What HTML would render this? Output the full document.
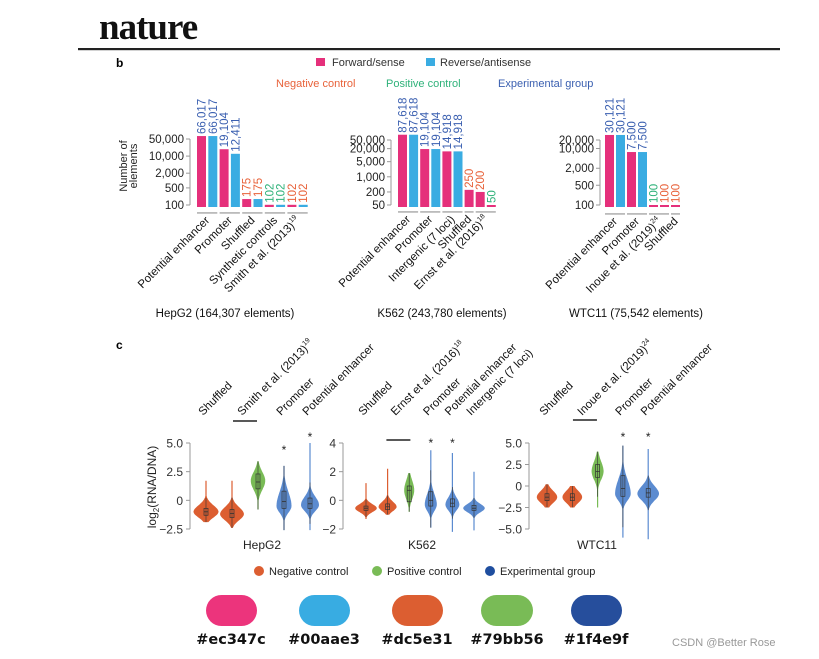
<!DOCTYPE html>
<html><head><meta charset="utf-8"><style>
html,body{margin:0;padding:0;background:#fff;}
svg{display:block;font-family:"Liberation Sans",Arial,sans-serif;}
</style></head><body>
<svg id="fig" width="819" height="659" viewBox="0 0 819 659" xmlns="http://www.w3.org/2000/svg">
<rect width="819" height="659" fill="#fff"/>
<text x="99" y="39" font-family="Liberation Serif,serif" font-weight="bold" font-size="37" letter-spacing="-1" fill="#111">nature</text>
<rect x="78" y="48" width="702" height="2.2" fill="#222"/>
<text x="116" y="67" font-weight="bold" font-size="12">b</text>
<g font-size="11" fill="#333">
<rect x="316" y="58" width="9" height="8" fill="#e5307b"/>
<text x="332" y="66">Forward/sense</text>
<rect x="426" y="58" width="9" height="8" fill="#3aace2"/>
<text x="440" y="66">Reverse/antisense</text>
</g>
<g font-size="11">
<text x="276" y="87" fill="#e8623a">Negative control</text>
<text x="386" y="87" fill="#2fb27a">Positive control</text>
<text x="498" y="87" fill="#3a5fb0">Experimental group</text>
</g>
<g font-size="11" fill="#222" text-anchor="middle">
<text transform="translate(127,166) rotate(-90)">Number of</text>
<text transform="translate(137,166) rotate(-90)">elements</text>
</g>
<text x="116" y="349" font-weight="bold" font-size="12">c</text>
<text transform="translate(156,487) rotate(-90)" text-anchor="middle" font-size="12" fill="#222">log<tspan font-size="8" dy="3">2</tspan><tspan dy="-3">(RNA/DNA)</tspan></text>
<g font-size="11" fill="#222">
<circle cx="259" cy="571" r="5" fill="#dc5e31"/>
<text x="269" y="575">Negative control</text>
<circle cx="377" cy="571" r="5" fill="#79bb56"/>
<text x="387" y="575">Positive control</text>
<circle cx="490" cy="571" r="5" fill="#1f4e9f"/>
<text x="500" y="575">Experimental group</text>
</g>
<g font-family="DejaVu Sans,sans-serif" font-weight="bold" font-size="14.5" text-anchor="middle" fill="#111">
<rect x="206" y="595" width="51" height="31" rx="15.5" fill="#ec347c"/>
<rect x="299" y="595" width="51" height="31" rx="15.5" fill="#38ace2"/>
<rect x="392" y="595" width="51" height="31" rx="15.5" fill="#dc5e31"/>
<rect x="481" y="595" width="52" height="31" rx="15.5" fill="#79bb56"/>
<rect x="571" y="595" width="51" height="31" rx="15.5" fill="#264e9c"/>
<text x="231" y="644">#ec347c</text>
<text x="324" y="644">#00aae3</text>
<text x="417" y="644">#dc5e31</text>
<text x="507" y="644">#79bb56</text>
<text x="596" y="644">#1f4e9f</text>
</g>
<text x="672" y="646" font-size="11" fill="#999">CSDN @Better Rose</text>
<g id="chartsB"></g>
<g id="chartsC"></g>
</svg>
<script>
// ---------- Panel b data ----------
const hepValues=[66017,66017,19104,12411,175,175,102,102,102,102];
const hepLabels=['66,017','66,017','19,104','12,411','175','175','102','102','102','102'];
const hepTypes=['e','e','e','e','n','n','p','p','n','n'];
const hepSense=['f','r','f','r','f','r','f','r','f','r'];
const hepGroups=[0,0,1,1,2,2,3,3,4,4];
const hepCategories=['Potential enhancer','Promoter','Shuffled','Synthetic controls','Smith et al. (2013)'];
const hepCatSup=['','','','','19'];
const hepTicks=[50000,10000,2000,500,100];
const hepTickLabels=['50,000','10,000','2,000','500','100'];

const kValues=[87618,87618,19104,19104,14918,14918,250,200,50];
const kLabels=['87,618','87,618','19,104','19,104','14,918','14,918','250','200','50'];
const kTypes=['e','e','e','e','e','e','n','n','p'];
const kSense=['f','r','f','r','f','r','f','f','f'];
const kGroups=[0,0,1,1,2,2,3,4,4];
const kCategories=['Potential enhancer','Promoter','Intergenic (7 loci)','Shuffled','Ernst et al. (2016)'];
const kCatSup=['','','','','18'];
const kTicks=[50000,20000,5000,1000,200,50];
const kTickLabels=['50,000','20,000','5,000','1,000','200','50'];

const wValues=[30121,30121,7500,7500,100,100,100];
const wLabels=['30,121','30,121','7,500','7,500','100','100','100'];
const wTypes=['e','e','e','e','p','n','n'];
const wSense=['f','r','f','r','f','f','f'];
const wGroups=[0,0,1,1,2,2,3];
const wCategories=['Potential enhancer','Promoter','Inoue et al. (2019)','Shuffled'];
const wCatSup=['','','24',''];
const wTicks=[20000,10000,2000,500,100];
const wTickLabels=['20,000','10,000','2,000','500','100'];

// ---------- Panel c data ----------
const hepVCats=['Shuffled','Smith et al. (2013)','Promoter','Potential enhancer'];
const hepVSup=['','19','',''];
const hepVGroups=[0,1,1,2,3];
const hepVTypes=['n','n','p','e','e'];
const hepVMin=[-1.9,-2.4,-0.8,-2.6,-2.6];
const hepVMax=[1.7,1.7,3.4,3.0,5.0];
const hepVMode=[-1.0,-1.2,1.7,-0.5,-0.4];
const hepVQ1=[-1.3,-1.5,1.0,-0.7,-0.7];
const hepVMed=[-1.0,-1.15,1.6,-0.1,-0.3];
const hepVQ3=[-0.7,-0.8,2.3,0.8,0.2];
const hepVSpreadUp=[0.8,0.85,1.1,1.7,1.0];
const hepVSpreadDown=[0.7,0.75,1.1,0.8,0.75];
const hepVDensity=[1.0,0.95,0.58,0.6,0.72];
const hepVStar=[0,0,0,1,1];
const hepVTicks=[5.0,2.5,0,-2.5];
const hepVTickLabels=['5.0','2.5','0','\u22122.5'];

const kVCats=['Shuffled','Ernst et al. (2016)','Promoter','Potential enhancer','Intergenic (7 loci)'];
const kVSup=['','18','','',''];
const kVGroups=[0,1,1,2,3,4];
const kVTypes=['n','n','p','e','e','e'];
const kVMin=[-1.3,-1.0,-0.8,-1.9,-2.2,-2.1];
const kVMax=[1.2,2.2,1.9,3.5,3.3,2.0];
const kVMode=[-0.55,-0.45,0.7,-0.3,-0.3,-0.55];
const kVQ1=[-0.7,-0.65,-0.1,-0.4,-0.45,-0.7];
const kVMed=[-0.55,-0.45,0.7,0.0,-0.2,-0.55];
const kVQ3=[-0.4,-0.25,1.0,0.6,0.1,-0.35];
const kVSpreadUp=[0.4,0.5,0.95,1.05,0.7,0.42];
const kVSpreadDown=[0.38,0.42,0.85,0.62,0.55,0.4];
const kVDensity=[0.9,0.75,0.42,0.5,0.58,0.9];
const kVStar=[0,0,0,1,1,0];
const kVTicks=[4,2,0,-2];
const kVTickLabels=['4','2','0','\u22122'];

const wVCats=['Shuffled','Inoue et al. (2019)','Promoter','Potential enhancer'];
const wVSup=['','24','',''];
const wVGroups=[0,1,1,2,3];
const wVTypes=['n','n','p','e','e'];
const wVMin=[-2.5,-2.5,-2.5,-6.0,-6.2];
const wVMax=[0.2,0.0,4.0,4.7,4.3];
const wVMode=[-1.3,-1.3,1.7,-0.9,-0.9];
const wVQ1=[-1.7,-1.7,1.0,-1.2,-1.3];
const wVMed=[-1.3,-1.3,1.7,-0.3,-0.8];
const wVQ3=[-0.9,-0.9,2.5,1.2,-0.3];
const wVSpreadUp=[1.05,1.05,1.6,2.3,1.25];
const wVSpreadDown=[0.95,0.95,1.35,1.1,1.1];
const wVDensity=[0.85,0.82,0.5,0.65,0.9];
const wVStar=[0,0,0,1,1];
const wVTicks=[5.0,2.5,0,-2.5,-5.0];
const wVTickLabels=['5.0','2.5','0','\u22122.5','\u22125.0'];

const NS='http://www.w3.org/2000/svg';
function mk(tag,attrs,parent){const e=document.createElementNS(NS,tag);for(const k in attrs)e.setAttribute(k,attrs[k]);parent.appendChild(e);return e;}
const labelColor={e:'#3a5fb0',n:'#e8623a',p:'#2fb27a'};
const barColor={f:'#e5307b',r:'#3aace2'};

function barChart(name,values,labels,types,sense,groups,cats,sups,ticks,tickLabels,cfg){
  const root=document.getElementById('chartsB');
  const g=mk('g',{},root);
  
  
  const lmax=Math.log10(ticks[0]),lmin=Math.log10(ticks[ticks.length-1]);
  const y=v=>cfg.top+(lmax-Math.log10(v))/(lmax-lmin)*(cfg.bottom-cfg.top);
  const base=cfg.bottom+2;
  const ax=mk('line',{x1:cfg.axisX,x2:cfg.axisX,y1:y(ticks[0]),y2:y(ticks[ticks.length-1]),stroke:'#999','stroke-width':1},g);
  
  
  ticks.forEach((t,i)=>{
    const tk=mk('line',{x1:cfg.axisX-4,x2:cfg.axisX,y1:y(t),y2:y(t),stroke:'#999'},g);
    
    
    const tl=mk('text',{x:cfg.axisX-6,y:y(t)+4,'text-anchor':'end','font-size':11.5,fill:'#222'},g);
    tl.textContent=tickLabels[i];
    
    
  });
  const xs=values.map((v,i)=>cfg.x0+i*cfg.step);
  values.forEach((v,i)=>{
    const top=Math.min(y(v),base-2);
    const r=mk('rect',{x:xs[i],y:top,width:cfg.bw,height:base-top,fill:barColor[sense[i]]},g);
    
    
    const cx=xs[i]+cfg.bw/2+4;
    const t=mk('text',{transform:`translate(${cx},${top-2}) rotate(-90)`,'font-size':11.5,fill:labelColor[types[i]]},g);
    t.textContent=labels[i];
    
    
  });
  cats.forEach((c,gi)=>{
    const idx=groups.map((gg,i)=>gg===gi?i:-1).filter(i=>i>=0);
    const x1=xs[idx[0]],x2=xs[idx[idx.length-1]]+cfg.bw;
    const sep=mk('rect',{x:x1,y:cfg.sepY,width:x2-x1,height:1.8,fill:'#bbb'},g);
    
    
    const cx=(x1+x2)/2+3;
    const t=mk('text',{transform:`translate(${cx},${cfg.sepY+9}) rotate(-45)`,'text-anchor':'end','font-size':11.5,fill:'#111'},g);
    t.textContent=c;
    if(sups[gi]){const s=mk('tspan',{'font-size':7,dy:-5},t);s.textContent=sups[gi];}
    
    
  });
  const tt=mk('text',{x:cfg.titleX,y:cfg.titleY,'text-anchor':'middle','font-size':11.5,fill:'#111'},g);
  tt.textContent=cfg.title;
  
  
}
barChart('hepg2',hepValues,hepLabels,hepTypes,hepSense,hepGroups,hepCategories,hepCatSup,hepTicks,hepTickLabels,
 {top:139,bottom:205,axisX:190,x0:197,step:11.3,bw:9,sepY:212,titleX:225,titleY:317,title:'HepG2 (164,307 elements)'});
barChart('k562',kValues,kLabels,kTypes,kSense,kGroups,kCategories,kCatSup,kTicks,kTickLabels,
 {top:140,bottom:205,axisX:391,x0:398,step:11.1,bw:9,sepY:211,titleX:442,titleY:317,title:'K562 (243,780 elements)'});
barChart('wtc11',wValues,wLabels,wTypes,wSense,wGroups,wCategories,wCatSup,wTicks,wTickLabels,
 {top:140,bottom:205,axisX:600,x0:605,step:11.0,bw:9,sepY:213,titleX:636,titleY:317,title:'WTC11 (75,542 elements)'});

const vFill={n:'#dc5e31',p:'#79bb56',e:'#5b8bd0'};
function violinChart(name,cats,sups,groups,types,vmin,vmax,mode,q1,med,q3,sUp,sDn,dens,star,ticks,tickLabels,cfg){
  const root=document.getElementById('chartsC');
  const g=mk('g',{},root);
  
  
  const t0=ticks[0],t1=ticks[ticks.length-1];
  const y=v=>cfg.top+(t0-v)/(t0-t1)*(cfg.bottom-cfg.top);
  const ax=mk('line',{x1:cfg.axisX,x2:cfg.axisX,y1:y(t0),y2:y(t1),stroke:'#999'},g);
  
  
  ticks.forEach((t,i)=>{
    const tk=mk('line',{x1:cfg.axisX-4,x2:cfg.axisX,y1:y(t),y2:y(t),stroke:'#999'},g);
    
    
    const tl=mk('text',{x:cfg.axisX-7,y:y(t)+4.5,'text-anchor':'end','font-size':12,fill:'#333'},g);
    tl.textContent=tickLabels[i];
    
    
  });
  const xs=vmin.map((v,i)=>cfg.x0+i*cfg.step);
  vmin.forEach((mn,i)=>{
    const hw=cfg.maxHalf*dens[i];
    const N=80,left=[],right=[];
    for(let k=0;k<=N;k++){
      const v=mn+(vmax[i]-mn)*k/N;
      const s=v>mode[i]?sUp[i]:sDn[i];
      const w=Math.max(hw*Math.exp(-Math.pow(Math.abs(v-mode[i])/s,2.0)),0.6);
      right.push([xs[i]+w,y(v)]);left.push([xs[i]-w,y(v)]);
    }
    const pts=right.concat(left.reverse()).map(p=>p[0].toFixed(1)+','+p[1].toFixed(1)).join(' ');
    const vp=mk('polygon',{points:pts,fill:vFill[types[i]]},g);
    
    
    const wl=mk('line',{x1:xs[i],x2:xs[i],y1:y(Math.max(mn,q1[i]-1.5*(q3[i]-q1[i]))),y2:y(Math.min(vmax[i],q3[i]+1.5*(q3[i]-q1[i]))),stroke:'#333','stroke-width':0.6},g);
    
    
    const bx=mk('rect',{x:xs[i]-2,y:y(q3[i]),width:4,height:y(q1[i])-y(q3[i]),fill:'none',stroke:'#333','stroke-width':0.7},g);
    
    
    const ml=mk('line',{x1:xs[i]-2,x2:xs[i]+2,y1:y(med[i]),y2:y(med[i]),stroke:'#333','stroke-width':0.8},g);
    
    
    if(star[i]){
      const st=mk('text',{x:xs[i],y:Math.min(y(vmax[i])-4,cfg.starMax)+2,'text-anchor':'middle','font-size':12,fill:'#222'},g);
      st.textContent='*';
      
      
    }
  });
  cats.forEach((c,gi)=>{
    const idx=groups.map((gg,i)=>gg===gi?i:-1).filter(i=>i>=0);
    const cx=idx.reduce((a,i)=>a+xs[i],0)/idx.length-3;
    const t=mk('text',{transform:`translate(${cx},416) rotate(-45)`,'font-size':11.5,fill:'#111'},g);
    t.textContent=c;
    if(sups[gi]){const s=mk('tspan',{'font-size':7,dy:-5},t);s.textContent=sups[gi];}
    
    
    if(idx.length>1){
      const sb=mk('line',{x1:cx-9,x2:cx+15,y1:cfg.sigY,y2:cfg.sigY,stroke:'#222','stroke-width':1.5},g);
      
      
    }
  });
  const tt=mk('text',{x:cfg.titleX,y:549,'text-anchor':'middle','font-size':12,fill:'#222'},g);
  tt.textContent=cfg.title;
  
  
}
violinChart('hepg2',hepVCats,hepVSup,hepVGroups,hepVTypes,hepVMin,hepVMax,hepVMode,hepVQ1,hepVMed,hepVQ3,hepVSpreadUp,hepVSpreadDown,hepVDensity,hepVStar,hepVTicks,hepVTickLabels,
 {top:443,bottom:529,axisX:190,x0:206,step:26,maxHalf:12.5,sigY:421,starMax:452,titleX:262,title:'HepG2'});
violinChart('k562',kVCats,kVSup,kVGroups,kVTypes,kVMin,kVMax,kVMode,kVQ1,kVMed,kVQ3,kVSpreadUp,kVSpreadDown,kVDensity,kVStar,kVTicks,kVTickLabels,
 {top:443,bottom:529,axisX:343,x0:366,step:21.6,maxHalf:12,sigY:440,starMax:445,titleX:422,title:'K562'});
violinChart('wtc11',wVCats,wVSup,wVGroups,wVTypes,wVMin,wVMax,wVMode,wVQ1,wVMed,wVQ3,wVSpreadUp,wVSpreadDown,wVDensity,wVStar,wVTicks,wVTickLabels,
 {top:443,bottom:529,axisX:529,x0:547,step:25.3,maxHalf:12,sigY:420,starMax:439,titleX:597,title:'WTC11'});
</script>
</body></html>
